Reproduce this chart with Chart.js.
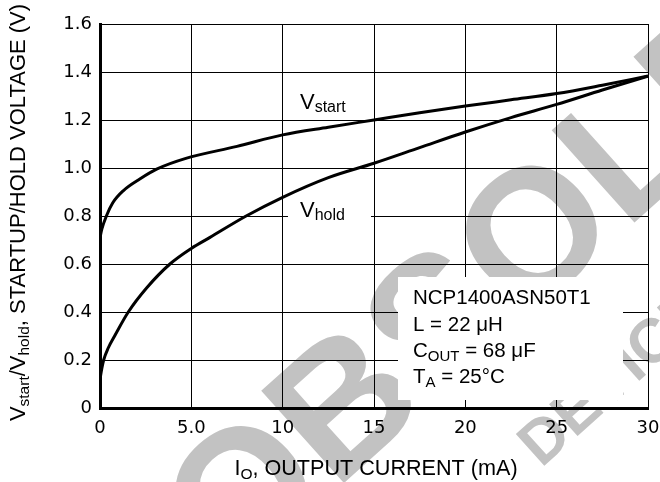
<!DOCTYPE html>
<html><head><meta charset="utf-8">
<script src="https://cdn.jsdelivr.net/npm/chart.js@4.4.1/dist/chart.umd.min.js"></script>
<style>html,body{margin:0;padding:0;background:#fff;overflow:hidden}canvas{display:block}</style>
</head><body>
<canvas id="c" width="660" height="482"></canvas>
<script>
// ---- data ----
const startCurrent = [0, 0.1, 0.35, 0.7, 1.27, 2.2, 3.1, 4.7, 7.5, 10, 12.5, 15, 17.5, 20, 22.5, 25, 27.5, 30];
const startVoltage = [0.71, 0.745, 0.8, 0.855, 0.905, 0.955, 0.995, 1.04, 1.09, 1.138, 1.17, 1.2, 1.23, 1.258, 1.284, 1.31, 1.345, 1.383];
const holdCurrent = [0, 0.1, 0.2, 0.45, 0.8, 1.55, 2.55, 3.83, 5, 6, 8, 10, 12.5, 15, 17.5, 20, 22.5, 25, 27.5, 30];
const holdVoltage = [0.12, 0.165, 0.2, 0.25, 0.3, 0.4, 0.5, 0.6, 0.665, 0.71, 0.8, 0.878, 0.96, 1.02, 1.085, 1.15, 1.21, 1.265, 1.325, 1.383];
const xTickLabels = ['0', '5.0', '10', '15', '20', '25', '30'];
const yTickLabels = ['0', '0.2', '0.4', '0.6', '0.8', '1.0', '1.2', '1.4', '1.6'];

const FONT = '"Liberation Sans", Arial, Helvetica, sans-serif';
const TICKFONT = '"DejaVu Sans", sans-serif';

function drawRich(ctx, parts, x, y, size, subSize, subDrop, align) {
  let total = 0;
  const ws = parts.map(p => {
    ctx.font = (p[1] ? subSize : size) + 'px ' + FONT;
    const w = ctx.measureText(p[0]).width; total += w; return w;
  });
  let cx = align === 'center' ? x - total / 2 : (align === 'right' ? x - total : x);
  ctx.textBaseline = 'alphabetic'; ctx.textAlign = 'left'; ctx.fillStyle = '#000';
  parts.forEach((p, i) => {
    ctx.font = (p[1] ? subSize : size) + 'px ' + FONT;
    ctx.fillText(p[0], cx, y + (p[1] ? subDrop : 0));
    cx += ws[i];
  });
}

const decor = {
  id: 'decor',
  beforeDraw(chart) {
    const ctx = chart.ctx;
    ctx.save();
    ctx.fillStyle = '#fff';
    ctx.fillRect(0, 0, chart.width, chart.height);
    // watermark
    const ang = -41.9 * Math.PI / 180;
    ctx.fillStyle = '#c2c2c2';
    ctx.font = 'bold 180px ' + FONT;
    ctx.textBaseline = 'alphabetic'; ctx.textAlign = 'left';
    ctx.save();
    ctx.translate(530, 229); ctx.rotate(ang);
    const w1 = ctx.measureText('OBS').width, wO = ctx.measureText('O').width;
    ctx.fillText('OBSOLETE', -(w1 + wO / 2), 0.36 * 180);
    ctx.restore();
    ctx.save();
    ctx.font = 'bold 62px ' + FONT;
    ctx.translate(543, 437); ctx.rotate(ang);
    const wD = ctx.measureText('D').width;
    ctx.fillText('DEVICE', -wD / 2, 0.36 * 62);
    ctx.restore();
    ctx.restore();
  },
  afterDraw(chart) {
    const ctx = chart.ctx;
    ctx.save();
    // curve labels
    drawRich(ctx, [['V', 0], ['start', 1]], 300, 109, 22, 16, 3, 'left');
    ctx.fillStyle = '#fff'; ctx.fillRect(288, 201, 83, 23);
    drawRich(ctx, [['V', 0], ['hold', 1]], 300, 217, 22, 16, 3, 'left');
    // condition box
    ctx.fillStyle = '#fff'; ctx.fillRect(398, 277, 225, 123);
    drawRich(ctx, [['NCP1400ASN50T1', 0]], 413, 304, 20.5, 15, 4, 'left');
    drawRich(ctx, [['L = 22 \u03BCH', 0]], 413, 331, 20.5, 15, 4, 'left');
    drawRich(ctx, [['C', 0], ['OUT', 1], [' = 68 \u03BCF', 0]], 413, 357, 20.5, 15, 4, 'left');
    drawRich(ctx, [['T', 0], ['A', 1], [' = 25\u00B0C', 0]], 413, 383, 20.5, 15, 4, 'left');
    // axis titles
    drawRich(ctx, [['I', 0], ['O', 1], [', OUTPUT CURRENT (mA)', 0]], 376, 475, 21.6, 15.5, 4, 'center');
    ctx.save();
    ctx.translate(25, 212.5); ctx.rotate(-Math.PI / 2);
    drawRich(ctx, [['V', 0], ['start', 1], ['/V', 0], ['hold', 1], [', STARTUP/HOLD VOLTAGE (V)', 0]], 0, 0, 22, 15.5, 4, 'center');
    ctx.restore();
    ctx.restore();
  }
};

const toPts = (xs, ys) => xs.map((x, i) => ({ x: x, y: ys[i] }));

new Chart(document.getElementById('c'), {
  type: 'scatter',
  data: {
    datasets: [
      { label: 'Vstart', data: toPts(startCurrent, startVoltage), showLine: true, borderColor: '#000', borderWidth: 3, pointRadius: 0, cubicInterpolationMode: 'monotone', fill: false },
      { label: 'Vhold', data: toPts(holdCurrent, holdVoltage), showLine: true, borderColor: '#000', borderWidth: 3, pointRadius: 0, cubicInterpolationMode: 'monotone', fill: false }
    ]
  },
  options: {
    responsive: false,
    animation: false,
    devicePixelRatio: 1,
    layout: { padding: { top: 24, right: 12, left: 0, bottom: 0 } },
    plugins: { legend: { display: false }, tooltip: { enabled: false } },
    scales: {
      x: {
        type: 'linear', min: 0, max: 30,
        afterFit(s) { s.height = 74; s.paddingLeft = 0; s.paddingRight = 0; },
        ticks: { stepSize: 5, autoSkip: false, maxRotation: 0, padding: 10, color: '#000',
          font: { family: TICKFONT, size: 18 },
          callback: v => xTickLabels[Math.round(v / 5)] },
        grid: { color: '#000', lineWidth: 1, drawTicks: false },
        border: { color: '#000', width: 3 }
      },
      y: {
        type: 'linear', min: 0, max: 1.6,
        afterFit(s) { s.width = 100; s.paddingTop = 0; s.paddingBottom = 0; },
        ticks: { stepSize: 0.2, padding: 8, color: '#000',
          font: { family: TICKFONT, size: 18 },
          callback: v => yTickLabels[Math.round(v / 0.2)] },
        grid: { color: '#000', lineWidth: 1, drawTicks: false },
        border: { color: '#000', width: 3 }
      }
    }
  },
  plugins: [decor]
});
</script>
</body></html>
